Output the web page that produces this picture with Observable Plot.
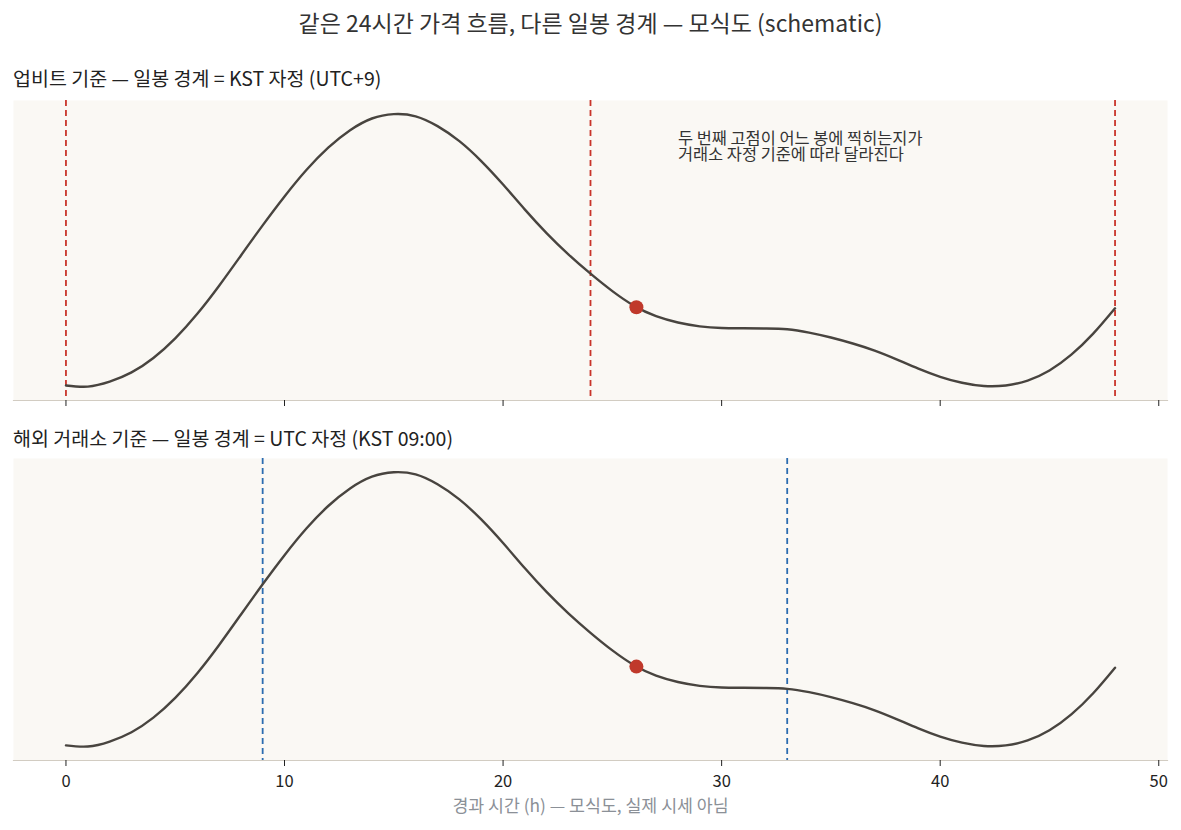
<!DOCTYPE html>
<html>
<head>
<meta charset="utf-8">
<script src="https://cdn.jsdelivr.net/npm/d3@7"></script>
<script src="https://cdn.jsdelivr.net/npm/@observablehq/plot@0.6"></script>
<style>
  body { margin: 0; background: #fff; font-family: "Noto Sans CJK KR", "Noto Sans", sans-serif; }
  #title { height: 44px; line-height: 44px; text-align: center; font-size: 23px; color: #333; }
  .panel-label { height: 20px; line-height: 20px; padding-left: 13px; font-size: 19.5px; color: #222; }
  svg { display: block; }
</style>
</head>
<body>
<div id="title">같은 24시간 가격 흐름, 다른 일봉 경계 — 모식도 (schematic)</div>
<div class="panel-label" style="margin-top:24px">업비트 기준 — 일봉 경계 = KST 자정 (UTC+9)</div>
<div id="p1"></div>
<div class="panel-label">해외 거래소 기준 — 일봉 경계 = UTC 자정 (KST 09:00)</div>
<div id="p2"></div>
<script>
// elapsed hours (schematic)
const hours = [0,1,2,3,4,5,6,7,8,9,10,11,12,13,14,15,16,17,18,19,20,21,22,23,24,
               25,26,27,28,29,30,31,32,33,34,35,36,37,38,39,40,41,42,43,44,45,46,47,48];
// relative price (schematic)
const prices = [0.005,0.001,0.019,0.053,0.106,0.178,0.267,0.370,0.481,0.592,0.698,0.795,0.877,0.941,0.984,1.000,
                0.992,0.956,0.901,0.828,0.742,0.650,0.563,0.485,0.415,0.351,0.297,0.259,0.236,0.222,0.216,0.215,
                0.214,0.211,0.199,0.181,0.159,0.133,0.101,0.067,0.037,0.015,0.003,0.005,0.023,0.060,0.118,0.195,0.288];
const upbitBoundaries = [0, 24, 48];   // KST midnight
const utcBoundaries = [9, 33];         // UTC midnight = KST 09:00
const peakHour = [26.1];
const peakPrice = [0.292];
const xTicks = [0, 10, 20, 30, 40, 50];
const noteLines = ["두 번째 고점이 어느 봉에 찍히는지가", "거래소 자정 기준에 따라 달라진다"];
const xLabel = "경과 시간 (h) — 모식도, 실제 시세 아님";

const series = hours.map((h, i) => ({hour: h, price: prices[i]}));
const peak = peakHour.map((h, i) => ({hour: h, price: peakPrice[i]}));

const FONT = '"Noto Sans CJK KR", "Noto Sans", sans-serif';

function panel({boundaries, color, showLabels, marginTop, marginBottom, frameH, note}) {
  const marks = [
    Plot.frame({fill: "#faf8f4", stroke: null}),
    Plot.frame({anchor: "bottom", stroke: "#d2ccc2", strokeWidth: 1.2}),
    Plot.ruleX(boundaries, {stroke: color, strokeWidth: 1.8, strokeDasharray: "6,4"}),
    Plot.line(series, {x: "hour", y: "price", curve: "natural", stroke: "#48443f", strokeWidth: 2.4}),
    Plot.dot(peak, {x: "hour", y: "price", r: 7, fill: "#c0392b", stroke: null}),
    Plot.axisX({ticks: xTicks, tickSize: 6, tickPadding: 9, stroke: "#222",
      tickFormat: showLabels ? (d => String(d)) : (() => ""), label: null,
      fontSize: 16.5, fill: "#222"})
  ];
  if (note) {
    marks.push(Plot.text([note.join("\n")], {x: 28, y: 0.935, text: d => d, textAnchor: "start",
      lineAnchor: "top", lineHeight: 1.0, fontSize: 16.4, fill: "#333"}));
  }
  if (showLabels) {
    marks.push(Plot.text([xLabel], {frameAnchor: "bottom", dy: 46, text: d => d,
      lineAnchor: "middle", fontSize: 17.3, fill: "#8b9097"}));
  }
  return Plot.plot({
    width: 1181,
    height: marginTop + frameH + marginBottom,
    marginLeft: 13, marginRight: 14, marginTop, marginBottom,
    x: {domain: [-2.4, 50.4]},
    y: {domain: [-0.05, 1.05], axis: null},
    style: {fontFamily: FONT, background: "transparent", overflow: "visible"},
    marks
  });
}

document.getElementById("p1").append(panel({
  boundaries: upbitBoundaries, color: "#c9352b", showLabels: false,
  marginTop: 12, marginBottom: 28, frameH: 300, note: noteLines
}));
document.getElementById("p2").append(panel({
  boundaries: utcBoundaries, color: "#2b6cb0", showLabels: true,
  marginTop: 10, marginBottom: 60, frameH: 302, note: null
}));
</script>
</body>
</html>
